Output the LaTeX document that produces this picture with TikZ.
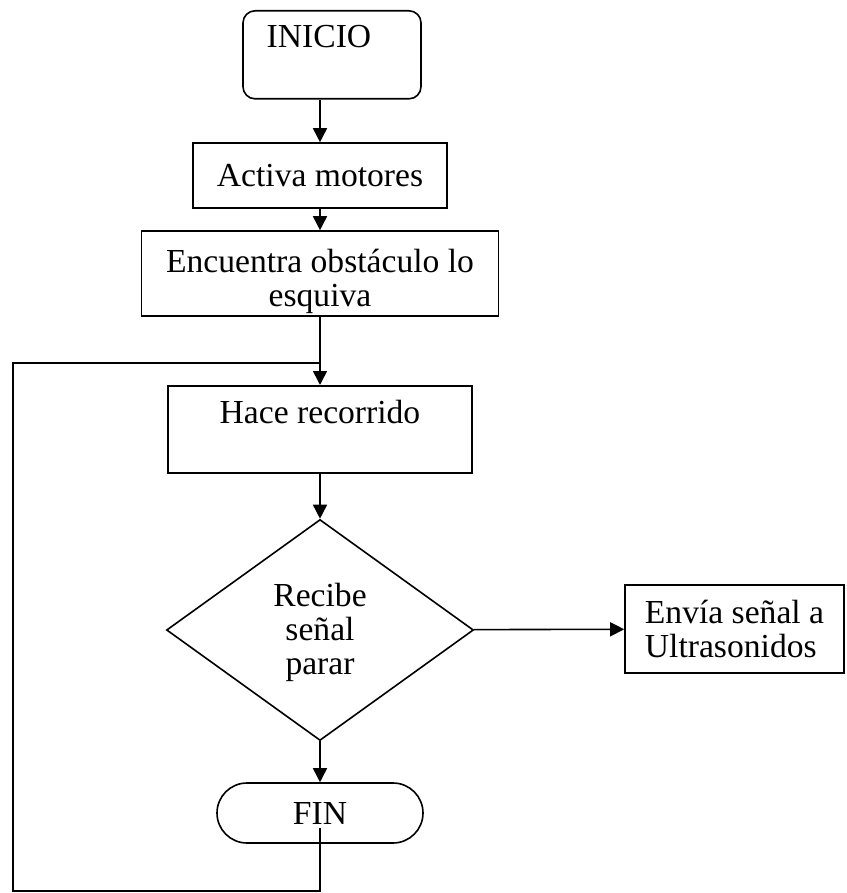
\documentclass[tikz,border=0pt]{standalone}
\usepackage{fontspec}
\setmainfont{Liberation Serif}
\usetikzlibrary{arrows.meta, shapes.geometric}

\begin{document}
\begin{tikzpicture}[
        x=0.5pt, y=-0.5pt, line width=0.8pt, >={Triangle[length=7pt,width=7pt]},
        font=\fontsize{16.8}{17}\selectfont,
        every node/.style={draw, line width=0.8pt},
        procbox/.style={rectangle, align=center},
        startbox/.style={rectangle, rounded corners=6pt, minimum width=89pt,
          inner ysep=0pt, text height=18.5pt, text depth=25.5pt},
        endbox/.style={rectangle, rounded corners=15pt, minimum width=103pt, minimum height=30pt},
        decision/.style={diamond, align=center, inner sep=0pt,
          minimum width=153.5pt, minimum height=110.5pt},
        ]
        \useasboundingbox (0,0) rectangle (846,893);

        \node[startbox, anchor=north] (inicio) at (332,10) {INICIO\hspace*{13pt}};
        \node[procbox, minimum width=127pt, minimum height=32.5pt] (activa) at (320,175.5) {Activa motores};
        \node[procbox, minimum width=178.5pt, minimum height=42.5pt, inner ysep=0pt] (encuentra) at (320,273.5)
          {\rule{0pt}{20pt}Encuentra obstáculo lo\\esquiva};
        \node[procbox, anchor=north, minimum width=152pt, inner ysep=0pt,
          text height=19pt, text depth=24.5pt] (hace) at (320,385) {Hace recorrido};
        \node[decision] (recibe) at (320,630) {\rule{0pt}{14pt}Recibe\\señal\\parar};
        \node[procbox, align=left, minimum width=109.5pt, minimum height=44pt, inner xsep=9.5pt]
          (envia) at (734.5,629) {Envía señal a\\Ultrasonidos};
        \node[endbox] (fin) at (320,813) {FIN};

        \coordinate (loopin) at (320,363);
        \coordinate (lbot) at (13,891);

        \draw[->] (inicio.south -| activa.north) -- (activa.north);
        \draw[->] (activa) -- (encuentra);
        \draw[->] (encuentra) -- (hace);
        \draw[->] (hace) -- (recibe);
        \draw[->] (recibe) -- (envia);
        \draw[->] (recibe) -- (fin);
        % vuelta al recorrido
        \draw ([yshift=-7.5pt]fin.center) |- (lbot) |- (loopin);
      \end{tikzpicture}
\end{document}
